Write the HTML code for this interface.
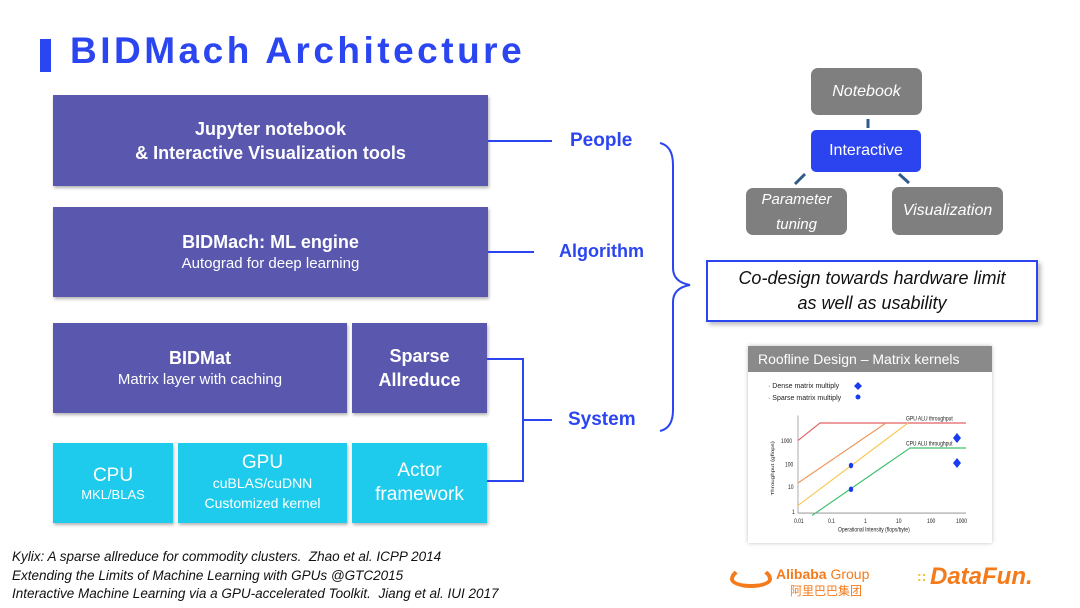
<!DOCTYPE html>
<html><head><meta charset="utf-8"><style>
*{margin:0;padding:0;box-sizing:border-box}
body{width:1080px;height:608px;background:#fff;position:relative;overflow:hidden;font-family:"Liberation Sans","Noto Sans CJK SC",sans-serif}
.a{position:absolute}
.b{position:absolute;display:flex;flex-direction:column;align-items:center;justify-content:center;text-align:center;color:#fff;box-shadow:1px 2px 3px rgba(0,0,0,.3)}
.p{background:#5a57ae}
.c{background:#1ecbec}
.g{background:#7f7f7f;border-radius:7px;font-style:italic;font-size:16px;box-shadow:none}
.lbl{position:absolute;color:#2b45f0;font-weight:bold;font-size:19px}
.cit{position:absolute;left:12px;font-style:italic;font-size:13.5px;color:#111}
</style></head><body>
<div class="a" style="left:40px;top:39px;width:11px;height:33px;background:#2b45f0"></div>
<div class="a" style="left:70px;top:30px;font-size:37px;font-weight:bold;color:#2b45f0;letter-spacing:3.5px">BIDMach Architecture</div>

<div class="b p" style="left:53px;top:95px;width:435px;height:91px;font-weight:bold;font-size:18px;line-height:24px">Jupyter notebook<br>&amp; Interactive Visualization tools</div>
<div class="b p" style="left:53px;top:207px;width:435px;height:90px"><div style="font-weight:bold;font-size:18px">BIDMach: ML engine</div><div style="font-size:15px;margin-top:2px">Autograd for deep learning</div></div>
<div class="b p" style="left:53px;top:323px;width:294px;height:90px"><div style="font-weight:bold;font-size:18px">BIDMat</div><div style="font-size:15px;margin-top:2px">Matrix layer with caching</div></div>
<div class="b p" style="left:352px;top:323px;width:135px;height:90px;font-weight:bold;font-size:18px;line-height:24px">Sparse<br>Allreduce</div>
<div class="b c" style="left:53px;top:443px;width:120px;height:80px"><div style="font-size:19px">CPU</div><div style="font-size:13px">MKL/BLAS</div></div>
<div class="b c" style="left:178px;top:443px;width:169px;height:80px;line-height:20px"><div style="font-size:19px">GPU</div><div style="font-size:14px">cuBLAS/cuDNN</div><div style="font-size:14px">Customized kernel</div></div>
<div class="b c" style="left:352px;top:443px;width:135px;height:80px;font-size:19px;line-height:24px">Actor<br>framework</div>

<svg class="a" style="left:0;top:0" width="1080" height="608">
<g stroke="#2b45f0" stroke-width="2" fill="none">
<line x1="488" y1="141" x2="552" y2="141"/>
<line x1="488" y1="252" x2="534" y2="252"/>
<polyline points="487,359 523,359 523,481 487,481"/>
<line x1="523" y1="420" x2="552" y2="420"/>
<path d="M660,143 Q673,146 673,165 L673,268 Q673,282 690,285 Q673,288 673,302 L673,410 Q673,428 660,431"/>
</g>
<g stroke="#2f5b8a" stroke-width="3">
<line x1="868" y1="119" x2="868" y2="128"/>
<line x1="805" y1="174" x2="795" y2="184"/>
<line x1="899" y1="174" x2="909" y2="183"/>
</g>
</svg>
<div class="lbl" style="left:570px;top:130px">People</div>
<div class="lbl" style="left:559px;top:241px;font-size:18px">Algorithm</div>
<div class="lbl" style="left:568px;top:409px">System</div>

<div class="b g" style="left:811px;top:68px;width:111px;height:47px">Notebook</div>
<div class="b" style="left:811px;top:130px;width:110px;height:42px;background:#2b44f0;border-radius:5px;font-size:16px;box-shadow:none">Interactive</div>
<div class="b g" style="left:746px;top:188px;width:101px;height:47px;font-size:15px;line-height:25px">Parameter<br>tuning</div>
<div class="b g" style="left:892px;top:187px;width:111px;height:48px">Visualization</div>

<div class="b" style="left:706px;top:260px;width:332px;height:62px;border:2px solid #2b45f0;background:#fff;color:#111;font-style:italic;font-size:18px;line-height:25px;box-shadow:3px 3px 4px rgba(0,0,0,.25)">Co-design towards hardware limit<br>as well as usability</div>

<div class="a" style="left:748px;top:346px;width:244px;height:197px;background:#fff;box-shadow:0 0 4px rgba(0,0,0,.25)">
<div style="background:#8a8a8a;color:#fff;height:26px;font-size:14px;padding:5px 0 0 10px">Roofline Design – Matrix kernels</div>
<svg width="244" height="171" style="display:block" font-family="Liberation Sans" font-size="7" fill="#222">
<text x="20" y="16">· Dense matrix multiply</text><polygon points="110,10 114,14 110,18 106,14" fill="#1a3cf0"/>
<text x="20" y="28">· Sparse matrix multiply</text><circle cx="110" cy="25" r="2.5" fill="#1a3cf0"/>
<g transform="translate(0,-14) scale(1,1.25)">
<line x1="50" y1="46" x2="50" y2="124" stroke="#888" stroke-width=".7"/>
<line x1="50" y1="124" x2="218" y2="124" stroke="#888" stroke-width=".7"/>
<g font-size="5"><text x="33" y="68">1000</text><text x="37" y="87">100</text><text x="40" y="105">10</text><text x="44" y="125">1</text>
<text x="46" y="132">0.01</text><text x="80" y="132">0.1</text><text x="116" y="132">1</text><text x="148" y="132">10</text><text x="179" y="132">100</text><text x="208" y="132">1000</text>
<text x="90" y="139">Operational Intensity (flops/byte)</text>
<text x="26" y="110" transform="rotate(-90 26 110)">Throughput (gflops)</text>
<text x="158" y="50">GPU ALU throughput</text><text x="158" y="70">CPU ALU throughput</text></g>
<g fill="none" stroke-width="1">
<polyline points="50,66 72,52 218,52" stroke="#e06060"/>
<line x1="50" y1="100" x2="138" y2="52" stroke="#f09050"/>
<line x1="50" y1="118" x2="160" y2="52" stroke="#f5c850"/>
<polyline points="64,126 162,72 218,72" stroke="#40c070"/>
</g>
<circle cx="103" cy="86" r="2.2" fill="#1a3cf0"/><circle cx="103" cy="105" r="2.2" fill="#1a3cf0"/>
<polygon points="209,60 213,64 209,68 205,64" fill="#1a3cf0"/><polygon points="209,80 213,84 209,88 205,84" fill="#1a3cf0"/>
</g>
</svg></div>

<div class="cit" style="top:549px">Kylix: A sparse allreduce for commodity clusters.&nbsp; Zhao et al. ICPP 2014</div>
<div class="cit" style="top:568px">Extending the Limits of Machine Learning with GPUs @GTC2015</div>
<div class="cit" style="top:586px">Interactive Machine Learning via a GPU-accelerated Toolkit.&nbsp; Jiang et al. IUI 2017</div>

<div class="a" style="left:730px;top:566px;width:42px;height:22px;border:4px solid #f57a1a;border-radius:50% 50% 50% 50%/60% 60% 40% 40%;border-top-color:transparent"></div>
<div class="a" style="left:776px;top:566px;color:#f57a1a;font-size:14px;font-weight:bold">Alibaba <span style="font-weight:normal">Group</span></div>
<div class="a" style="left:790px;top:582px;color:#f57a1a;font-size:12px;font-family:'Noto Sans CJK SC',sans-serif">阿里巴巴集团</div>
<div class="a" style="left:917px;top:568px;color:#f5c020;font-size:14px;font-weight:bold">::</div>
<div class="a" style="left:930px;top:563px;color:#f57a1a;font-size:24px;font-weight:bold;font-style:italic">DataFun.</div>
</body></html>
